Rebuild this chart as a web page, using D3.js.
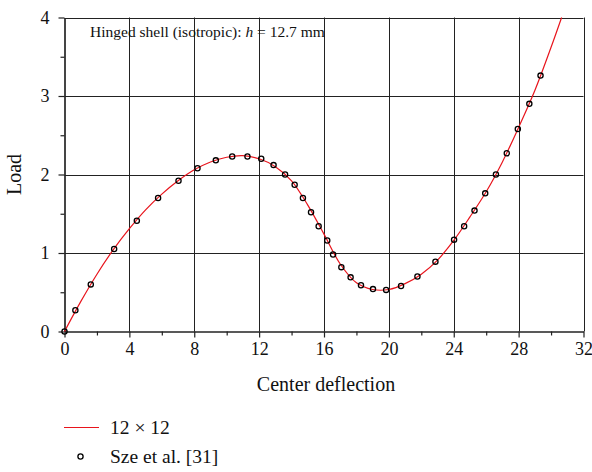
<!DOCTYPE html>
<html>
<head>
<meta charset="utf-8">
<script src="https://cdn.jsdelivr.net/npm/d3@7"></script>
<style>
  body { margin: 0; background: #fff; }
  svg text { font-family: "Liberation Serif", "DejaVu Serif", serif; }
</style>
</head>
<body>
<svg width="592" height="472"></svg>
<script>
// 12 x 12 FEM curve
const curveX = [0, 1, 2, 3, 4, 5, 6, 7, 8, 9, 10, 11, 12, 13, 14, 15, 16, 17, 18, 19, 20, 21, 22, 23, 24, 25, 26, 27, 28, 29, 30, 30.65];
const curveY = [0, 0.38, 0.73, 1.04, 1.31, 1.55, 1.75, 1.92, 2.06, 2.16, 2.22, 2.24, 2.2, 2.1, 1.92, 1.61, 1.24, 0.86, 0.62, 0.535, 0.535, 0.61, 0.73, 0.91, 1.16, 1.46, 1.78, 2.16, 2.6, 3.07, 3.62, 4.0];

// Sze et al. [31] reference points
const szeX = [0, 0.67, 1.62, 3.06, 4.46, 5.77, 7.03, 8.2, 9.33, 10.34, 11.28, 12.13, 12.89, 13.6, 14.19, 14.7, 15.2, 15.67, 16.2, 16.56, 17.07, 17.64, 18.28, 19.02, 19.83, 20.75, 21.76, 22.87, 24.02, 24.64, 25.28, 25.94, 26.6, 27.27, 27.95, 28.66, 29.35];
const szeY = [0, 0.27, 0.6, 1.05, 1.41, 1.7, 1.92, 2.08, 2.18, 2.23, 2.23, 2.2, 2.12, 2.0, 1.87, 1.7, 1.52, 1.34, 1.16, 0.98, 0.82, 0.69, 0.59, 0.54, 0.53, 0.58, 0.7, 0.89, 1.17, 1.34, 1.54, 1.76, 2.0, 2.27, 2.58, 2.9, 3.26];

const xTicks = [0, 4, 8, 12, 16, 20, 24, 28, 32];
const yTicks = [0, 1, 2, 3, 4];

const svg = d3.select("svg");
const mLeft = 64.5, mRight = 583.5, mTop = 17.5, mBottom = 331.5;
const serif = "Liberation Serif, DejaVu Serif, serif";

const x = d3.scaleLinear().domain([0, 32]).range([mLeft, mRight]);
const y = d3.scaleLinear().domain([0, 4]).range([mBottom, mTop]);

// grid
svg.append("g")
  .selectAll("line")
  .data(xTicks.slice(1))
  .join("line")
  .attr("x1", (d) => Math.round(x(d)) + 0.5)
  .attr("x2", (d) => Math.round(x(d)) + 0.5)
  .attr("y1", mTop)
  .attr("y2", mBottom)
  .attr("stroke", "#222")
  .attr("stroke-width", 1);

svg.append("g")
  .selectAll("line")
  .data(yTicks.slice(1))
  .join("line")
  .attr("x1", mLeft)
  .attr("x2", mRight)
  .attr("y1", (d) => Math.round(y(d)) + 0.5)
  .attr("y2", (d) => Math.round(y(d)) + 0.5)
  .attr("stroke", "#222")
  .attr("stroke-width", 1);

// axes
const fmt = d3.format("d");
const xAxis = svg.append("g")
  .attr("transform", `translate(0,${mBottom})`)
  .call(d3.axisBottom(x).tickValues(xTicks).tickFormat(fmt).tickSize(6).tickPadding(5).tickSizeOuter(0));
const xMinor = svg.append("g")
  .attr("transform", `translate(0,${mBottom})`)
  .call(d3.axisBottom(x).tickValues(d3.range(2, 32, 4)).tickSize(4).tickFormat("").tickSizeOuter(0));
const yAxis = svg.append("g")
  .attr("transform", `translate(${mLeft},0)`)
  .call(d3.axisLeft(y).tickValues(yTicks).tickFormat(fmt).tickSize(6).tickPadding(9).tickSizeOuter(0));
const yMinor = svg.append("g")
  .attr("transform", `translate(${mLeft},0)`)
  .call(d3.axisLeft(y).tickValues(d3.range(0.5, 4, 1)).tickSize(4).tickFormat("").tickSizeOuter(0));

[xAxis, xMinor, yAxis, yMinor].forEach((g) => {
  g.attr("font-family", serif).attr("font-size", 18);
  g.selectAll("path").attr("stroke", "#222").attr("stroke-width", 1.2);
  g.selectAll("line").attr("stroke", "#222").attr("stroke-width", 1.2);
  g.selectAll("text").attr("fill", "#111");
});

// curve
const pts = curveX.map((d, i) => [d, curveY[i]]);
svg.append("path")
  .datum(pts)
  .attr("fill", "none")
  .attr("stroke", "#e8141c")
  .attr("stroke-width", 1.2)
  .attr("d", d3.line().x((d) => x(d[0])).y((d) => y(d[1])).curve(d3.curveCatmullRom));

// reference points
svg.append("g")
  .selectAll("circle")
  .data(szeX.map((d, i) => [d, szeY[i]]))
  .join("circle")
  .attr("cx", (d) => x(d[0]))
  .attr("cy", (d) => y(d[1]))
  .attr("r", 2.6)
  .attr("fill", "none")
  .attr("stroke", "#000")
  .attr("stroke-width", 1.3);

// annotation
const note = svg.append("text")
  .attr("x", 90)
  .attr("y", 37)
  .attr("font-size", 15.5)
  .attr("fill", "#111");
note.append("tspan").text("Hinged shell (isotropic): ");
note.append("tspan").attr("font-style", "italic").text("h");
note.append("tspan").text(" = 12.7 mm");

// axis titles
svg.append("text")
  .attr("x", (mLeft + mRight) / 2 + 2)
  .attr("y", 391)
  .attr("text-anchor", "middle")
  .attr("font-size", 20)
  .attr("fill", "#111")
  .text("Center deflection");

svg.append("text")
  .attr("transform", `translate(21,${(mTop + mBottom) / 2}) rotate(-90)`)
  .attr("text-anchor", "middle")
  .attr("font-size", 20)
  .attr("fill", "#111")
  .text("Load");

// legend
const legend = svg.append("g");
legend.append("line")
  .attr("x1", 64).attr("x2", 99)
  .attr("y1", 427.5).attr("y2", 427.5)
  .attr("stroke", "#e8141c").attr("stroke-width", 1.2);
legend.append("text")
  .attr("x", 110).attr("y", 434)
  .attr("font-size", 19.5).attr("fill", "#111")
  .text("12 × 12");
legend.append("circle")
  .attr("cx", 80.5).attr("cy", 456.5).attr("r", 2.6)
  .attr("fill", "none").attr("stroke", "#000").attr("stroke-width", 1.3);
legend.append("text")
  .attr("x", 110).attr("y", 463)
  .attr("font-size", 19.5).attr("fill", "#111")
  .text("Sze et al. [31]");
</script>
</body>
</html>
